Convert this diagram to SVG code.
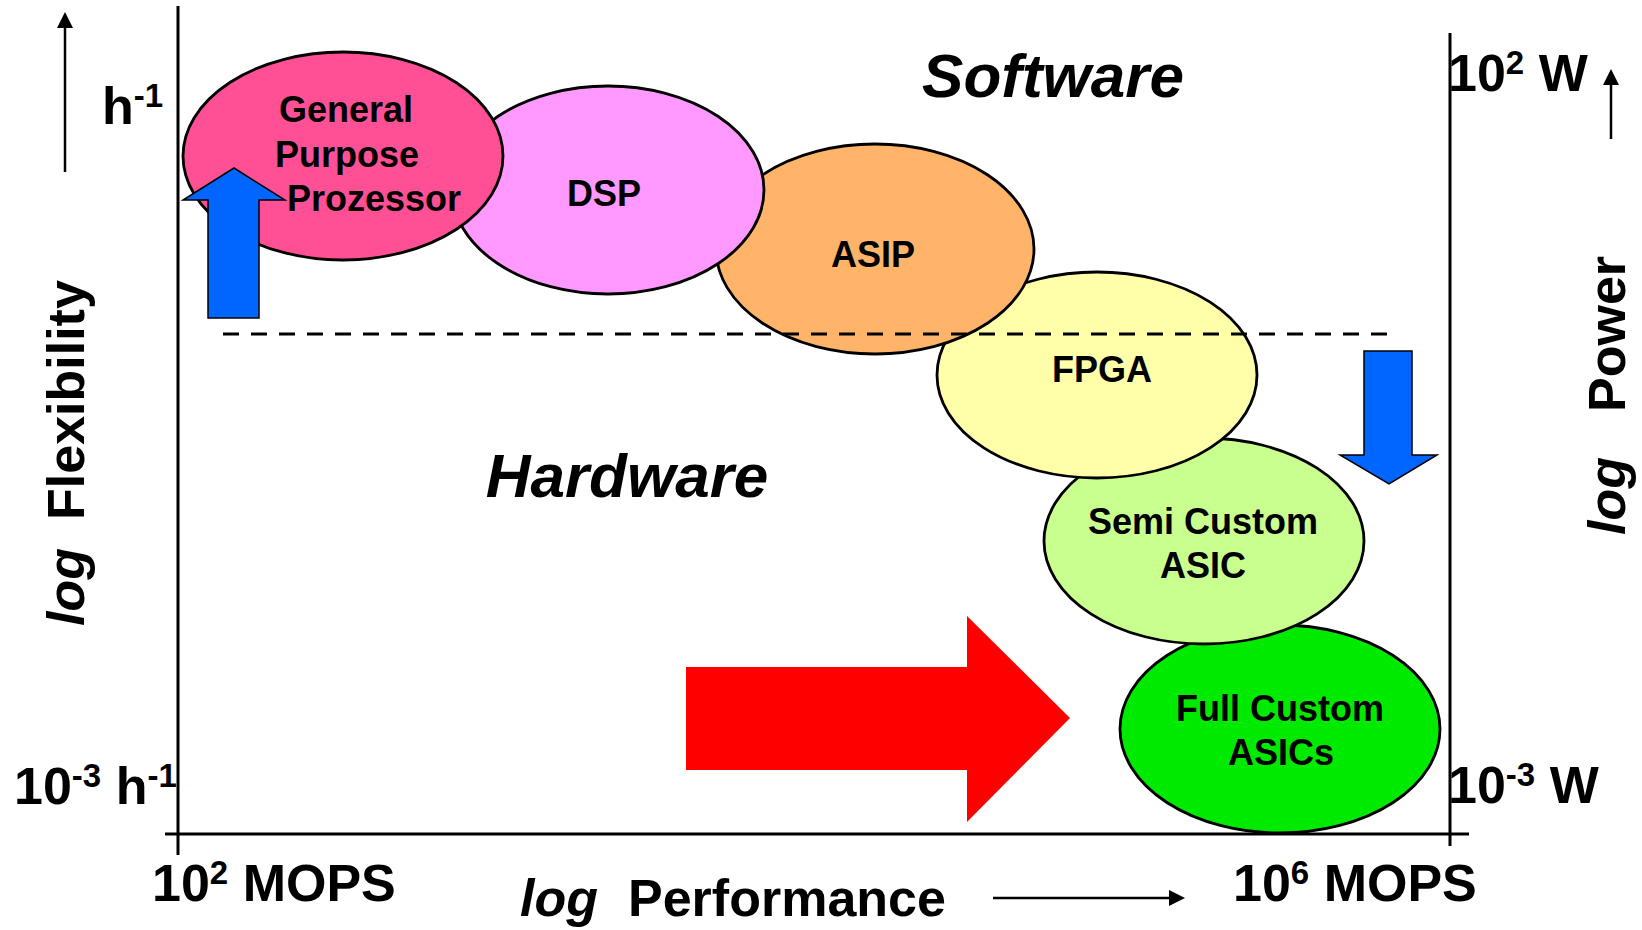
<svg xmlns="http://www.w3.org/2000/svg" width="1642" height="930" viewBox="0 0 1642 930">
  <defs>
    <style>
      text { font-family: "Liberation Sans", Arial, sans-serif; font-weight: bold; fill: #000; }
      .axis { stroke: #000; stroke-width: 3; fill: none; }
      .thin { stroke: #000; stroke-width: 2.5; fill: none; marker-end: url(#head); }
      .node { stroke: #000; stroke-width: 2.8; }
      .lbl { font-size: 36px; text-anchor: middle; }
      .big { font-size: 52px; }
      .title { font-size: 62px; font-style: italic; text-anchor: middle; }
      .ital { font-style: italic; }
      .block { stroke: #000; stroke-width: 1.5; fill: #0066FF; }
    </style>
    <marker id="head" viewBox="0 0 16 16" refX="2" refY="8" markerWidth="16" markerHeight="16" markerUnits="userSpaceOnUse" orient="auto">
      <path d="M0,0 L16,8 L0,16 Z" fill="#000"/>
    </marker>
  </defs>
  <rect width="1642" height="930" fill="#fff"/>

  <!-- chart frame -->
  <g id="axes">
    <line class="axis" x1="178" y1="6" x2="178" y2="855"/>
    <line class="axis" x1="165" y1="834" x2="1469" y2="834"/>
    <line class="axis" x1="1450" y1="33" x2="1450" y2="846"/>
  </g>

  <!-- axis scale labels -->
  <g id="scale-labels" class="big">
    <text x="102" y="124">h<tspan font-size="33" dy="-17">-1</tspan></text>
    <text x="14" y="804">10<tspan font-size="33" dy="-17">-3</tspan><tspan dy="17"> h</tspan><tspan font-size="33" dy="-17">-1</tspan></text>
    <text x="152" y="901">10<tspan font-size="33" dy="-17">2</tspan><tspan dy="17"> MOPS</tspan></text>
    <text x="1233" y="901">10<tspan font-size="33" dy="-17">6</tspan><tspan dy="17"> MOPS</tspan></text>
    <text x="1448" y="91">10<tspan font-size="33" dy="-17">2</tspan><tspan dy="17"> W</tspan></text>
    <text x="1448" y="803">10<tspan font-size="33" dy="-17">-3</tspan><tspan dy="17"> W</tspan></text>
  </g>

  <!-- axis titles -->
  <g id="axis-titles" class="big">
    <text x="520" y="916"><tspan class="ital">log</tspan></text>
    <text x="628" y="916">Performance</text>
    <text transform="translate(84,626) rotate(-90)"><tspan class="ital">log</tspan></text>
    <text transform="translate(84,520) rotate(-90)">Flexibility</text>
    <text transform="translate(1625,535) rotate(-90)"><tspan class="ital">log</tspan></text>
    <text transform="translate(1625,412) rotate(-90)">Power</text>
  </g>

  <!-- region titles -->
  <text class="title" x="1053" y="97">Software</text>
  <text class="title" x="627" y="497">Hardware</text>

  <!-- processor classes, later ones drawn first so earlier overlap them -->
  <g id="full-custom">
    <ellipse class="node" cx="1280" cy="729" rx="160" ry="104" fill="#00EA00"/>
    <text class="lbl" x="1280" y="721">Full Custom</text>
    <text class="lbl" x="1281" y="765">ASICs</text>
  </g>
  <g id="semi-custom">
    <ellipse class="node" cx="1204" cy="541" rx="160" ry="103" fill="#C8FF8F"/>
    <text class="lbl" x="1203" y="534">Semi Custom</text>
    <text class="lbl" x="1203" y="578">ASIC</text>
  </g>
  <g id="fpga">
    <ellipse class="node" cx="1097" cy="375" rx="160" ry="103" fill="#FFFFAA"/>
    <text class="lbl" x="1102" y="382">FPGA</text>
  </g>
  <g id="asip">
    <ellipse class="node" cx="875" cy="249" rx="159" ry="105" fill="#FFB46A"/>
    <text class="lbl" x="873" y="267">ASIP</text>
  </g>
  <g id="dsp">
    <ellipse class="node" cx="608" cy="190" rx="156" ry="104" fill="#FF99FF"/>
    <text class="lbl" x="604" y="206">DSP</text>
  </g>
  <g id="gpp">
    <ellipse class="node" cx="343" cy="156" rx="160" ry="104" fill="#FF5096"/>
    <text class="lbl" x="346" y="122">General</text>
    <text class="lbl" x="347" y="167">Purpose</text>
    <text class="lbl" x="374" y="211">Prozessor</text>
  </g>

  <!-- software / hardware boundary -->
  <line id="boundary" x1="223" y1="334" x2="1388" y2="334" stroke="#000" stroke-width="3" stroke-dasharray="16 12"/>

  <g id="connectors">
    <!-- trend arrows -->
    <polygon class="block" points="234,168 285,200 259,200 259,318 208,318 208,200 183,200"/>
    <polygon class="block" points="1364,351 1412,351 1412,455 1437,455 1389,484 1340,455 1364,455"/>
    <polygon points="686,667 967,667 967,616 1070,718 967,822 967,770 686,770" fill="#FF0000"/>
    <!-- axis direction arrows -->
    <line class="thin" x1="65" y1="172" x2="65" y2="26"/>
    <line class="thin" x1="1611" y1="139" x2="1611" y2="83"/>
    <line class="thin" x1="993" y1="898" x2="1171" y2="898"/>
  </g>
</svg>
